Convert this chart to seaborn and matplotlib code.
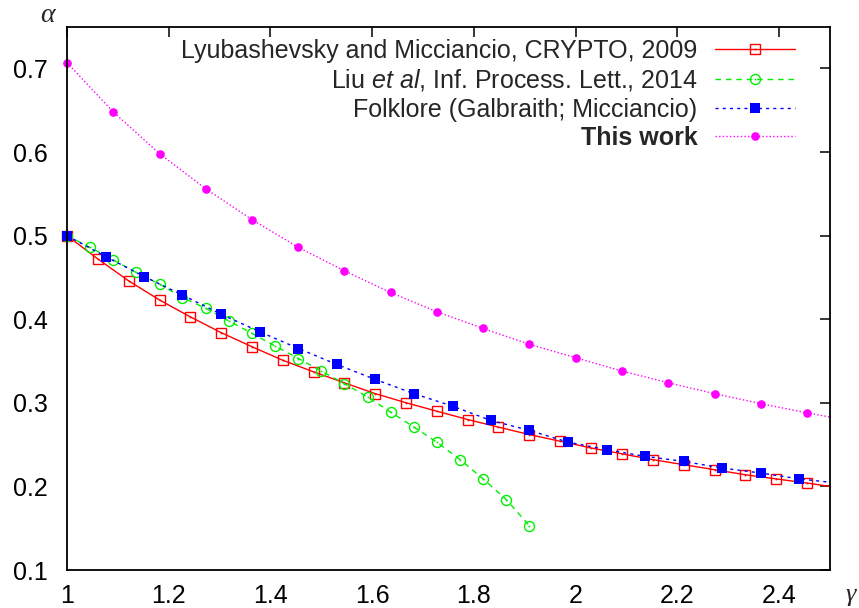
import matplotlib
matplotlib.use('Agg')
import matplotlib.pyplot as plt
import seaborn as sns

# marker samples (gamma -> alpha)
gamma_lm = [1.000, 1.061, 1.121, 1.182, 1.242, 1.303, 1.364, 1.424, 1.485, 1.545, 1.606, 1.667, 1.727,
            1.788, 1.848, 1.909, 1.970, 2.030, 2.091, 2.152, 2.212, 2.273, 2.333, 2.394, 2.455, 2.500]
alpha_lm = [0.500, 0.472, 0.446, 0.423, 0.403, 0.384, 0.367, 0.351, 0.337, 0.324, 0.311, 0.300, 0.290,
            0.280, 0.271, 0.262, 0.254, 0.246, 0.239, 0.232, 0.226, 0.220, 0.214, 0.209, 0.204, 0.200]

gamma_liu = [1.000, 1.045, 1.091, 1.136, 1.182, 1.227, 1.273, 1.318, 1.364, 1.409, 1.455, 1.500, 1.545,
             1.591, 1.636, 1.682, 1.727, 1.773, 1.818, 1.864, 1.909]
alpha_liu = [0.500, 0.486, 0.471, 0.456, 0.442, 0.426, 0.413, 0.398, 0.383, 0.368, 0.353, 0.338, 0.323,
             0.307, 0.289, 0.271, 0.253, 0.232, 0.209, 0.184, 0.153]

gamma_fk = [1.000, 1.076, 1.152, 1.227, 1.303, 1.379, 1.455, 1.530, 1.606, 1.682, 1.758, 1.833, 1.909,
            1.985, 2.061, 2.136, 2.212, 2.288, 2.364, 2.439, 2.500]
alpha_fk = [0.500, 0.475, 0.451, 0.429, 0.406, 0.385, 0.365, 0.346, 0.328, 0.311, 0.296, 0.279, 0.267,
            0.253, 0.244, 0.236, 0.230, 0.222, 0.216, 0.209, 0.205]

gamma_tw = [1.000, 1.091, 1.182, 1.273, 1.364, 1.455, 1.545, 1.636, 1.727, 1.818, 1.909, 2.000, 2.091,
            2.182, 2.273, 2.364, 2.455, 2.500]
alpha_tw = [0.707, 0.648, 0.598, 0.556, 0.519, 0.486, 0.458, 0.432, 0.409, 0.389, 0.370, 0.354, 0.338,
            0.324, 0.311, 0.299, 0.288, 0.283]

labels = ['Lyubashevsky and Micciancio, CRYPTO, 2009',
          r'Liu $\mathit{et\ al}$, Inf. Process. Lett., 2014',
          'Folklore (Galbraith; Micciancio)',
          'This work']

xticks = [1, 1.2, 1.4, 1.6, 1.8, 2, 2.2, 2.4]
yticks = [0.1, 0.2, 0.3, 0.4, 0.5, 0.6, 0.7]

sns.set_theme(style='white')
plt.rcParams['font.family'] = ['Liberation Sans', 'DejaVu Sans']
plt.rcParams['mathtext.fontset'] = 'custom'
plt.rcParams['mathtext.it'] = 'Liberation Sans:italic'
plt.rcParams['mathtext.rm'] = 'Liberation Sans'

fig = plt.figure(figsize=(8.59, 6.08), dpi=100)
ax = fig.add_axes([67 / 859, 38 / 608, 763 / 859, 543.3 / 608])

series = [
    # x, y, color, marker, filled, size, linestyle, last point is line-only
    (gamma_lm, alpha_lm, '#ff0000', 's', False, 7.2, '-', True),
    (gamma_liu, alpha_liu, '#00ee00', 'o', False, 7.2, (0, (4, 3.5)), False),
    (gamma_fk, alpha_fk, '#0000ff', 's', True, 7.4, (0, (2.2, 3)), True),
    (gamma_tw, alpha_tw, '#ff00ff', 'o', True, 6.2, (0, (1, 1.6)), True),
]

handles = []
for x, y, col, mk, filled, ms, ls, drop_last in series:
    n = len(x)
    every = list(range(n - 1)) if drop_last else list(range(n))
    sns.lineplot(x=x, y=y, ax=ax, color=col, lw=1.0, linestyle=ls,
                 marker=mk, markersize=ms, markevery=every,
                 markerfacecolor=col if filled else 'none',
                 markeredgecolor=col, markeredgewidth=1.0 if not filled else 0.0,
                 clip_on=False)
    line = ax.lines[-1]
    if not filled:
        # small dot in the centre of open gnuplot markers
        dots = ax.plot([x[i] for i in every], [y[i] for i in every], ls='none',
                       marker='s', ms=1.2, color=col, mew=0, clip_on=False)[0]
        handles.append((line, dots))
    else:
        handles.append(line)

ax.set_xlim(1, 2.5)
ax.set_ylim(0.1, 0.75)
ax.set_xticks(xticks)
ax.set_xticklabels([f'{v:g}' for v in xticks])
ax.set_yticks(yticks)
ax.set_yticklabels([f'{v:g}' for v in yticks])
ax.tick_params(axis='both', direction='in', length=7.5, width=1.1, labelsize=18,
               top=True, right=True, colors='black')
ax.tick_params(axis='x', pad=10)
ax.tick_params(axis='y', pad=14)
for sp in ax.spines.values():
    sp.set_visible(True)
    sp.set_color('black')
    sp.set_linewidth(1.3)
ax.set_xlabel('')
ax.set_ylabel('')
ax.grid(False)

fig.text(47 / 859, 1 - 15 / 608, 'α', family='Liberation Serif', style='italic',
         fontsize=20, ha='center', va='center')
fig.text(851 / 859, 1 - 595 / 608, 'γ', family='Liberation Serif', style='italic',
         fontsize=19, ha='center', va='center')

leg = ax.legend(handles, labels, loc='upper right', bbox_to_anchor=(0.954, 0.978),
                frameon=False, markerfirst=False, fontsize=18, handlelength=3.2,
                handletextpad=0.7, labelspacing=0.18, borderpad=0, borderaxespad=0)
leg.get_texts()[3].set_fontweight('bold')

fig.savefig('out.png', dpi=100)
